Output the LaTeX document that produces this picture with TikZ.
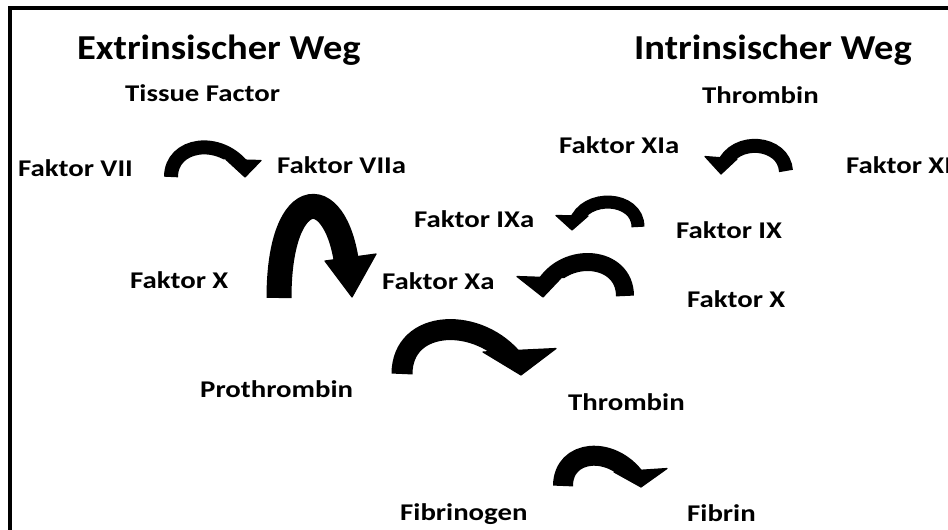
\documentclass[tikz,border=0pt]{standalone}
\usepackage{fontspec}
\setmainfont{Carlito}
\newfontfamily\lblfont[FakeStretch=1.2]{Carlito}
\newfontfamily\ttlfont[FakeStretch=1.1]{Carlito}
\begin{document}
\begin{tikzpicture}[x=1pt,y=-1pt,
  lbl/.style={anchor=base west, inner sep=0pt, font=\lblfont\bfseries\fontsize{24}{24}\selectfont},
  ttl/.style={anchor=base west, inner sep=0pt, font=\ttlfont\bfseries\fontsize{35}{35}\selectfont},
  frameline/.style={line width=3.5pt, black},
  arrowhead/.style={fill=black, draw=black, line width=1.2pt, line join=round}]
% page area
\useasboundingbox (0,0) rectangle (948,530);
\clip (0,0) rectangle (948,530);
\fill[white] (0,0) rectangle (948,530);

% thick curved arrow:
% #1 stem width, #2 foot, #3/#4 controls, #5 stem end (inside the head),
% #6 x beyond the foot, #7 x just before the head, #8 x beyond the head;
% head corners are the coordinates (hi) inner wing, (ho) outer wing, (ht) tip
\newcommand\bentarrow[8]{%
  \begin{scope}
    \clip (#6,-100) -- (#6,700) -- (#7,700)
      -- (intersection cs: first line={(hi)--(ho)}, second line={(#7,0)--(#7,1)})
      -- (intersection cs: first line={(hi)--(ho)}, second line={(#8,0)--(#8,1)})
      -- (#8,-100) -- cycle;
    \draw[line width=#1] (#2) .. controls (#3) and (#4) .. (#5);
  \end{scope}
  \path[arrowhead] (hi) -- (ht) -- (ho) -- cycle;}

% frame
\coordinate (fa) at (10,530);
\coordinate (fb) at (10,8);
\coordinate (fc) at (948,8);
\draw[frameline] (fa) -- (fb) -- (fc);

% headings
\node[ttl] (ext) at (77,59) {Extrinsischer Weg};
\node[ttl] (int) at (634,59) {Intrinsischer Weg};

% labels
\node[lbl] (tf)   at (125,101) {Tissue Factor};
\node[lbl] (thr1) at (702,103) {Thrombin};
\node[lbl] (f7)   at (18,176)  {Faktor VII};
\node[lbl] (f7a)  at (277,173) {Faktor VIIa};
\node[lbl] (f11a) at (559,153) {Faktor XIa};
\node[lbl] (f11)  at (846,173) {Faktor XI};
\node[lbl] (f9a)  at (414,227) {Faktor IXa};
\node[lbl] (f9)   at (676,238) {Faktor IX};
\node[lbl] (f10l) at (130,288) {Faktor X};
\node[lbl] (f10a) at (382,289) {Faktor Xa};
\node[lbl] (f10r) at (687,307) {Faktor X};
\node[lbl] (pro)  at (200,397) {Prothrombin};
\node[lbl] (thr2) at (568,410) {Thrombin};
\node[lbl] (fbg)  at (400,520) {Fibrinogen};
\node[lbl] (fbn)  at (687,521) {Fibrin};

% Faktor VII -> Faktor VIIa
\coordinate (a1) at (171,177); \coordinate (a2) at (244,168);
\coordinate (hi) at (226,159.5); \coordinate (ho) at (261,160.5); \coordinate (ht) at (245,177);
\bentarrow{14pt}{a1}{171,143}{220,136}{a2}{0}{223}{400}
% Faktor VIIa -> Faktor Xa (large loop)
\coordinate (b1) at (279,298); \coordinate (b2) at (348,275);
\coordinate (hi) at (325,261); \coordinate (ho) at (376,254); \coordinate (ht) at (352,297);
\bentarrow{25pt}{b1}{279,180}{340,180}{b2}{0}{320}{500}
% Faktor XI -> Faktor XIa
\coordinate (c1) at (786,171); \coordinate (c2) at (723,166);
\coordinate (hi) at (737,159); \coordinate (ho) at (705,156.5); \coordinate (ht) at (721,174);
\bentarrow{14pt}{c1}{784,141}{735,136}{c2}{948}{741}{500}
% Faktor IX -> Faktor IXa
\coordinate (d1) at (638,227); \coordinate (d2) at (575,223);
\coordinate (hi) at (588,216); \coordinate (ho) at (556,215.5); \coordinate (ht) at (572,230);
\bentarrow{13pt}{d1}{638,196}{585,193}{d2}{948}{592}{400}
% Faktor X -> Faktor Xa
\coordinate (e1) at (625,296); \coordinate (e2) at (544,287);
\coordinate (hi) at (561,278); \coordinate (ho) at (517,276.5); \coordinate (ht) at (543,297);
\bentarrow{18pt}{e1}{625,255}{565,250}{e2}{948}{565}{400}
% Prothrombin -> Thrombin
\coordinate (g1) at (402,374); \coordinate (g2) at (515,362);
\coordinate (hi) at (483,352); \coordinate (ho) at (556,348.5); \coordinate (ht) at (521,375);
\bentarrow{21pt}{g1}{402,318}{480,316}{g2}{0}{479}{700}
% Fibrinogen -> Fibrin
\coordinate (h1) at (563,486); \coordinate (h2) at (636,479);
\coordinate (hi) at (614,472); \coordinate (ho) at (667,468.5); \coordinate (ht) at (641,487);
\bentarrow{20pt}{h1}{563,449}{612,445}{h2}{0}{610}{800}
\end{tikzpicture}
\end{document}
